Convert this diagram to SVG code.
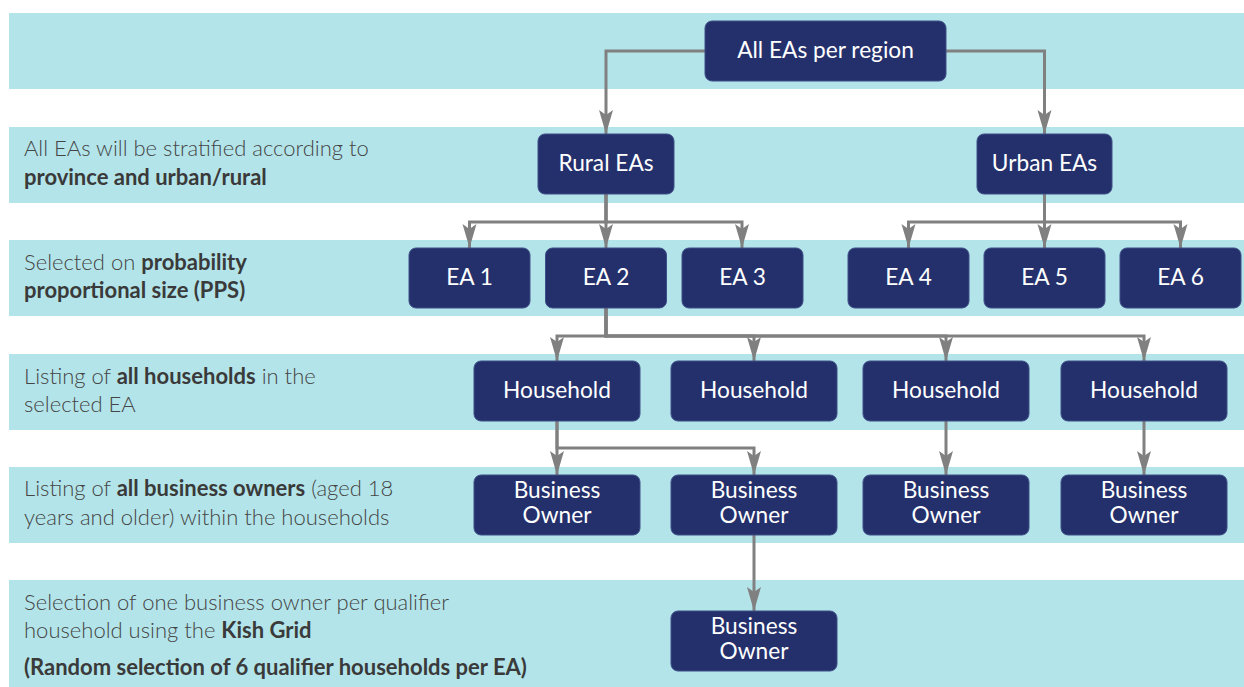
<svg xmlns="http://www.w3.org/2000/svg" width="1244" height="687" viewBox="0 0 1244 687">
<style>
.band{fill:#b3e4e9}
.node rect{fill:#24306b;stroke:#3f4f88;stroke-width:1}
.node text{fill:#ffffff;font-family:Lato,"Open Sans","Liberation Sans",sans-serif;font-size:22.7px;text-anchor:middle}
.lbl{fill:#454545;font-family:Lato,"Open Sans","Liberation Sans",sans-serif;font-size:22px;font-weight:300}
.lbl .b{font-weight:700;fill:#3a3a3a}
.conn path{fill:none;stroke:#808080;stroke-width:3;marker-end:url(#arr)}
</style>
<defs>
<marker id="arr" markerUnits="userSpaceOnUse" markerWidth="26" markerHeight="16" viewBox="0 -8 26 16" refX="24" refY="0" orient="auto">
<path d="M24,0 L0,-7 L5,0 L0,7 Z" fill="#808080"/>
</marker>
</defs>
<g id="bands">
<rect class="band" x="9" y="13" width="1235" height="76"/>
<rect class="band" x="9" y="127" width="1235" height="76"/>
<rect class="band" x="9" y="240" width="1235" height="76"/>
<rect class="band" x="9" y="354" width="1235" height="76"/>
<rect class="band" x="9" y="467" width="1235" height="76"/>
<rect class="band" x="9" y="580" width="1235" height="107"/>
</g>
<g id="labels">
<text class="lbl" x="24" y="156">All EAs will be stratified according to</text>
<text class="lbl" x="24" y="185"><tspan class="b">province and urban/rural</tspan></text>
<text class="lbl" x="24" y="270">Selected on <tspan class="b">probability</tspan></text>
<text class="lbl" x="24" y="298"><tspan class="b">proportional size (PPS)</tspan></text>
<text class="lbl" x="24" y="384">Listing of <tspan class="b">all households</tspan> in the</text>
<text class="lbl" x="24" y="412">selected EA</text>
<text class="lbl" x="24" y="496">Listing of <tspan class="b">all business owners</tspan> (aged 18</text>
<text class="lbl" x="24" y="525">years and older) within the households</text>
<text class="lbl" x="24" y="610">Selection of one business owner per qualifier</text>
<text class="lbl" x="24" y="638">household using the <tspan class="b">Kish Grid</tspan></text>
<text class="lbl" x="24" y="675"><tspan class="b">(Random selection of 6 qualifier households per EA)</tspan></text>
</g>
<g id="connectors" class="conn">
<path d="M705,51 H606 V134"/>
<path d="M946,51 H1044.5 V134"/>
<path d="M606,194 V222 H469.5 V248"/>
<path d="M606,194 V248"/>
<path d="M606,194 V222 H742 V248"/>
<path d="M1044.5,194 V222 H908.5 V248"/>
<path d="M1044.5,194 V248"/>
<path d="M1044.5,194 V222 H1180.5 V248"/>
<path d="M606,308 V336 H557 V361"/>
<path d="M606,308 V336 H754 V361"/>
<path d="M606,308 V336 H946 V361"/>
<path d="M606,308 V336 H1144 V361"/>
<path d="M557,421 V475"/>
<path d="M557,421 V448 H754 V475"/>
<path d="M946,421 V475"/>
<path d="M1144,421 V475"/>
<path d="M754,535 V611"/>
</g>
<g id="n-all" class="node"><rect x="705" y="21" width="241" height="60" rx="7"/><text x="825.5" y="57.5">All EAs per region</text></g>
<g id="n-rural" class="node"><rect x="538" y="134" width="136" height="60" rx="7"/><text x="606" y="170.5">Rural EAs</text></g>
<g id="n-urban" class="node"><rect x="977" y="134" width="135" height="60" rx="7"/><text x="1044.5" y="170.5">Urban EAs</text></g>
<g id="n-ea1" class="node"><rect x="409" y="248" width="121" height="60" rx="7"/><text x="469.5" y="284.5">EA 1</text></g>
<g id="n-ea2" class="node"><rect x="545.5" y="248" width="121" height="60" rx="7"/><text x="606" y="284.5">EA 2</text></g>
<g id="n-ea3" class="node"><rect x="682" y="248" width="121" height="60" rx="7"/><text x="742.5" y="284.5">EA 3</text></g>
<g id="n-ea4" class="node"><rect x="848" y="248" width="121" height="60" rx="7"/><text x="908.5" y="284.5">EA 4</text></g>
<g id="n-ea5" class="node"><rect x="984" y="248" width="121" height="60" rx="7"/><text x="1044.5" y="284.5">EA 5</text></g>
<g id="n-ea6" class="node"><rect x="1120" y="248" width="121" height="60" rx="7"/><text x="1180.5" y="284.5">EA 6</text></g>
<g id="n-h1" class="node"><rect x="474" y="361" width="166" height="60" rx="7"/><text x="557" y="397.5">Household</text></g>
<g id="n-h2" class="node"><rect x="671" y="361" width="166" height="60" rx="7"/><text x="754" y="397.5">Household</text></g>
<g id="n-h3" class="node"><rect x="863" y="361" width="166" height="60" rx="7"/><text x="946" y="397.5">Household</text></g>
<g id="n-h4" class="node"><rect x="1061" y="361" width="166" height="60" rx="7"/><text x="1144" y="397.5">Household</text></g>
<g id="n-bo1" class="node"><rect x="474" y="475" width="166" height="60" rx="7"/><text x="557" y="498">Business</text><text x="557" y="522.5">Owner</text></g>
<g id="n-bo2" class="node"><rect x="671" y="475" width="166" height="60" rx="7"/><text x="754" y="498">Business</text><text x="754" y="522.5">Owner</text></g>
<g id="n-bo3" class="node"><rect x="863" y="475" width="166" height="60" rx="7"/><text x="946" y="498">Business</text><text x="946" y="522.5">Owner</text></g>
<g id="n-bo4" class="node"><rect x="1061" y="475" width="166" height="60" rx="7"/><text x="1144" y="498">Business</text><text x="1144" y="522.5">Owner</text></g>
<g id="n-bo5" class="node"><rect x="671" y="611" width="166" height="60" rx="7"/><text x="754" y="634">Business</text><text x="754" y="658.5">Owner</text></g>
</svg>
